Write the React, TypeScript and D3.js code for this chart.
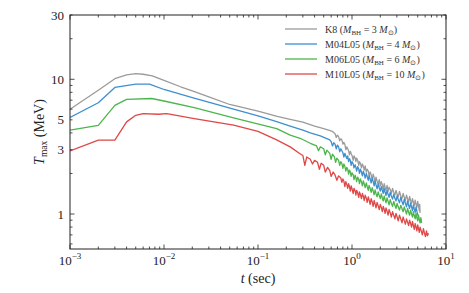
import React from 'react';
import * as d3 from 'd3';

// t (sec), T_max (MeV)
const k8: [number, number][] = [
  [1e-3, 6.0], [2e-3, 8.3], [3e-3, 10.1], [4e-3, 10.8], [5e-3, 11.0], [6e-3, 10.9], [7.5e-3, 10.6],
  [1e-2, 9.8], [1.5e-2, 8.8], [2e-2, 8.2], [3e-2, 7.4], [5e-2, 6.5], [0.1, 5.8], [0.16, 5.3],
  [0.22, 5.05], [0.3, 4.8], [0.4, 4.5], [0.5, 4.3], [0.62, 4.1],
  [0.66, 3.95], [0.68, 3.7], [0.7, 3.85], [0.72, 3.75], [0.74, 3.5], [0.76, 3.62], [0.78, 3.55],
  [0.8, 3.3], [0.82, 3.4], [0.84, 3.28], [0.86, 3.0], [0.88, 3.15], [0.9, 3.05], [0.92, 2.95],
  [0.94, 2.75], [0.96, 2.92], [0.98, 2.8], [1.0, 2.72], [1.03, 2.5], [1.05, 2.7], [1.08, 2.6],
  [1.1, 2.45], [1.12, 2.6], [1.15, 2.5], [1.18, 2.3], [1.2, 2.45], [1.23, 2.38], [1.26, 2.2],
  [1.29, 2.35], [1.32, 2.25], [1.35, 2.12], [1.38, 2.28], [1.42, 2.05], [1.45, 2.15], [1.49, 2.08],
  [1.52, 1.92], [1.56, 2.05], [1.6, 1.95], [1.64, 1.82], [1.68, 1.98], [1.72, 1.86], [1.76, 1.72],
  [1.8, 1.88], [1.85, 1.75], [1.9, 1.68], [1.95, 1.8], [2.0, 1.62], [2.05, 1.74], [2.1, 1.65],
  [2.15, 1.52], [2.2, 1.68], [2.25, 1.58], [2.3, 1.5], [2.36, 1.63], [2.42, 1.47], [2.48, 1.58],
  [2.55, 1.52], [2.62, 1.42], [2.7, 1.55], [2.78, 1.45], [2.86, 1.38], [2.94, 1.5], [3.02, 1.4],
  [3.1, 1.34], [3.2, 1.47], [3.3, 1.36], [3.4, 1.3], [3.5, 1.42], [3.6, 1.33], [3.7, 1.26],
  [3.8, 1.38], [3.9, 1.3], [4.0, 1.22], [4.1, 1.35], [4.2, 1.26], [4.3, 1.2], [4.4, 1.3],
  [4.5, 1.22], [4.6, 1.16], [4.7, 1.27], [4.8, 1.18], [4.9, 1.12], [5.0, 1.24], [5.1, 1.15],
  [5.2, 1.06], [5.25, 1.18], [5.3, 1.02],
];

const m04: [number, number][] = [
  [1e-3, 5.2], [2e-3, 6.7], [3e-3, 8.7], [5e-3, 9.2], [7e-3, 9.2], [1e-2, 8.4], [2e-2, 7.3],
  [5.5e-2, 6.0], [0.1, 5.35], [0.158, 4.85], [0.22, 4.5], [0.3, 4.2], [0.36, 4.0], [0.46, 3.8],
  [0.58, 3.55],
  [0.6, 3.45], [0.62, 3.2], [0.64, 3.38], [0.66, 3.3], [0.68, 3.05], [0.7, 3.25], [0.72, 3.15],
  [0.74, 2.9], [0.76, 3.05], [0.78, 2.95], [0.8, 2.85], [0.82, 2.65], [0.84, 2.82], [0.86, 2.7],
  [0.88, 2.58], [0.9, 2.7], [0.92, 2.45], [0.94, 2.58], [0.96, 2.5], [0.98, 2.3], [1.0, 2.45],
  [1.03, 2.35], [1.05, 2.2], [1.08, 2.32], [1.1, 2.22], [1.12, 2.08], [1.15, 2.25], [1.18, 2.15],
  [1.2, 2.0], [1.23, 2.15], [1.26, 2.05], [1.29, 1.92], [1.32, 2.08], [1.35, 1.98], [1.38, 1.85],
  [1.42, 2.0], [1.45, 1.9], [1.49, 1.78], [1.52, 1.93], [1.56, 1.82], [1.6, 1.7], [1.64, 1.85],
  [1.68, 1.74], [1.72, 1.62], [1.76, 1.76], [1.8, 1.65], [1.85, 1.54], [1.9, 1.68], [1.95, 1.56],
  [2.0, 1.48], [2.05, 1.6], [2.1, 1.5], [2.15, 1.42], [2.2, 1.55], [2.25, 1.45], [2.3, 1.37],
  [2.36, 1.5], [2.42, 1.4], [2.48, 1.33], [2.55, 1.45], [2.62, 1.36], [2.7, 1.29], [2.78, 1.4],
  [2.86, 1.31], [2.94, 1.25], [3.02, 1.37], [3.1, 1.28], [3.2, 1.21], [3.3, 1.33], [3.4, 1.24],
  [3.5, 1.17], [3.6, 1.29], [3.7, 1.2], [3.8, 1.13], [3.9, 1.25], [4.0, 1.16], [4.1, 1.1],
  [4.2, 1.21], [4.3, 1.13], [4.4, 1.06], [4.5, 1.17], [4.6, 1.09], [4.7, 1.03], [4.8, 1.13],
  [4.9, 1.05], [5.0, 0.99], [5.1, 0.96],
];

const m06: [number, number][] = [
  [1e-3, 4.2], [2e-3, 4.55], [3e-3, 6.4], [4e-3, 7.1], [7.4e-3, 7.2], [1e-2, 6.9], [2.1e-2, 6.15],
  [5.5e-2, 5.17], [0.158, 4.3], [0.22, 3.85], [0.28, 3.65], [0.36, 3.35],
  [0.42, 3.2], [0.44, 2.95], [0.46, 3.15], [0.5, 3.05], [0.52, 2.75], [0.54, 2.98], [0.58, 2.82],
  [0.6, 2.55], [0.62, 2.78], [0.65, 2.65], [0.67, 2.42], [0.69, 2.6], [0.72, 2.5], [0.74, 2.3],
  [0.76, 2.45], [0.78, 2.38], [0.8, 2.18], [0.82, 2.35], [0.84, 2.25], [0.86, 2.08], [0.88, 2.22],
  [0.9, 2.15], [0.92, 1.98], [0.94, 2.12], [0.96, 2.05], [0.98, 1.9], [1.0, 2.02], [1.03, 1.95],
  [1.05, 1.8], [1.08, 1.94], [1.1, 1.86], [1.12, 1.74], [1.15, 1.88], [1.18, 1.8], [1.2, 1.68],
  [1.23, 1.82], [1.26, 1.73], [1.29, 1.62], [1.32, 1.76], [1.35, 1.67], [1.38, 1.57], [1.42, 1.7],
  [1.45, 1.6], [1.49, 1.5], [1.52, 1.63], [1.56, 1.55], [1.6, 1.45], [1.64, 1.57], [1.68, 1.48],
  [1.72, 1.39], [1.76, 1.51], [1.8, 1.42], [1.85, 1.34], [1.9, 1.46], [1.95, 1.37], [2.0, 1.3],
  [2.05, 1.41], [2.1, 1.32], [2.15, 1.25], [2.2, 1.36], [2.25, 1.28], [2.3, 1.21], [2.36, 1.32],
  [2.42, 1.24], [2.48, 1.17], [2.55, 1.28], [2.62, 1.2], [2.7, 1.14], [2.78, 1.24], [2.86, 1.16],
  [2.94, 1.1], [3.02, 1.2], [3.1, 1.13], [3.2, 1.07], [3.3, 1.16], [3.4, 1.1], [3.5, 1.04],
  [3.6, 1.13], [3.7, 1.06], [3.8, 1.0], [3.9, 1.1], [4.0, 1.03], [4.1, 0.98], [4.2, 1.07],
  [4.3, 1.0], [4.4, 0.95], [4.5, 1.04], [4.6, 0.97], [4.7, 0.92], [4.8, 1.01], [4.9, 0.94],
  [5.0, 0.89], [5.1, 0.98], [5.2, 0.91], [5.3, 0.86], [5.4, 0.94], [5.5, 0.86],
];

const m10: [number, number][] = [
  [1e-3, 2.94], [2e-3, 3.54], [3e-3, 3.54], [4e-3, 4.83], [5e-3, 5.4], [6e-3, 5.56], [8.7e-3, 5.5],
  [1.07e-2, 5.56], [2.1e-2, 5.1], [5.5e-2, 4.56], [0.1, 4.1], [0.158, 3.55], [0.22, 3.15],
  [0.28, 2.8], [0.3, 2.72], [0.315, 2.3], [0.33, 2.65], [0.36, 2.55], [0.38, 2.35], [0.4, 2.5],
  [0.43, 2.42], [0.45, 2.15], [0.47, 2.38], [0.5, 2.3], [0.52, 2.05], [0.55, 2.22], [0.58, 2.1],
  [0.6, 1.9], [0.63, 2.05], [0.66, 1.95], [0.69, 1.78], [0.72, 1.92], [0.76, 1.85], [0.78, 1.72],
  [0.8, 1.82], [0.82, 1.75], [0.84, 1.6], [0.86, 1.74], [0.88, 1.66], [0.9, 1.55], [0.92, 1.68],
  [0.94, 1.6], [0.96, 1.48], [0.98, 1.62], [1.0, 1.54], [1.03, 1.42], [1.05, 1.55], [1.08, 1.48],
  [1.1, 1.38], [1.12, 1.5], [1.15, 1.43], [1.18, 1.33], [1.2, 1.46], [1.23, 1.39], [1.26, 1.3],
  [1.29, 1.42], [1.32, 1.35], [1.35, 1.26], [1.38, 1.38], [1.42, 1.31], [1.45, 1.22], [1.49, 1.34],
  [1.52, 1.27], [1.56, 1.18], [1.6, 1.3], [1.64, 1.23], [1.68, 1.14], [1.72, 1.26], [1.76, 1.19],
  [1.8, 1.11], [1.85, 1.22], [1.9, 1.15], [1.95, 1.08], [2.0, 1.18], [2.05, 1.12], [2.1, 1.04],
  [2.15, 1.14], [2.2, 1.08], [2.25, 1.01], [2.3, 1.11], [2.36, 1.05], [2.42, 0.98], [2.48, 1.08],
  [2.55, 1.02], [2.62, 0.95], [2.7, 1.04], [2.78, 0.98], [2.86, 0.92], [2.94, 1.01], [3.02, 0.95],
  [3.1, 0.89], [3.2, 0.98], [3.3, 0.92], [3.4, 0.86], [3.5, 0.95], [3.6, 0.89], [3.7, 0.84],
  [3.8, 0.92], [3.9, 0.87], [4.0, 0.82], [4.1, 0.9], [4.2, 0.85], [4.3, 0.8], [4.4, 0.88],
  [4.5, 0.82], [4.6, 0.77], [4.7, 0.85], [4.8, 0.8], [4.9, 0.75], [5.0, 0.83], [5.1, 0.78],
  [5.2, 0.73], [5.3, 0.8], [5.45, 0.75], [5.6, 0.7], [5.75, 0.78], [5.9, 0.72], [6.05, 0.68],
  [6.2, 0.75], [6.35, 0.69], [6.5, 0.72],
];

const seriesNames = ['K8', 'M04L05', 'M06L05', 'M10L05'];
const seriesMass = ['3', '4', '6', '10'];
const seriesColors = ['#9b9b9b', '#3d8fcf', '#4cb54c', '#e04747'];
const seriesData = [k8, m04, m06, m10];

const xMajor = [1e-3, 1e-2, 1e-1, 1, 10];
const xExp = ['\u22123', '\u22122', '\u22121', '0', '1'];
const yLabels = [1, 3, 5, 10, 30];
const yMajor = [1, 10];

const W = 469, H = 293;
const left = 70, right = 446, top = 15, bottom = 249;
const serif = 'Liberation Serif';

export default function App() {
  const x = d3.scaleLog().domain([1e-3, 10]).range([left, right]);
  const y = d3.scaleLog().domain([0.55, 30]).range([bottom, top]);
  const line = d3.line<[number, number]>().x(d => x(d[0])).y(d => y(d[1]));

  const xMinor: number[] = [];
  for (let e = -3; e < 1; e++) for (let k = 2; k <= 9; k++) xMinor.push(k * Math.pow(10, e));
  const yMinor: number[] = [];
  for (let e = -1; e < 2; e++) for (let k = 1; k <= 9; k++) {
    const v = k * Math.pow(10, e);
    if (v >= 0.55 && v <= 30 && !yMajor.includes(v)) yMinor.push(v);
  }

  const tickColor = '#222';
  return (
    <svg width={W} height={H} style={{ position: 'absolute', left: 0, top: 0, background: '#fff' }}>
      <defs>
        <clipPath id="plot"><rect x={left} y={top} width={right - left} height={bottom - top} /></clipPath>
      </defs>
      <g clipPath="url(#plot)">
        {seriesData.map((d, i) => (
          <path key={i} d={line(d) || ''} fill="none" stroke={seriesColors[i]} strokeWidth={1.3}
            strokeLinejoin="round" />
        ))}
      </g>
      {/* ticks */}
      <g stroke={tickColor} strokeWidth={0.8}>
        {xMajor.map((v, i) => (
          <g key={'xm' + i}>
            <line x1={x(v)} x2={x(v)} y1={bottom} y2={bottom - 4.5} />
            <line x1={x(v)} x2={x(v)} y1={top} y2={top + 4.5} />
          </g>
        ))}
        {xMinor.map((v, i) => (
          <g key={'xn' + i}>
            <line x1={x(v)} x2={x(v)} y1={bottom} y2={bottom - 2.5} />
            <line x1={x(v)} x2={x(v)} y1={top} y2={top + 2.5} />
          </g>
        ))}
        {yMajor.map((v, i) => (
          <g key={'ym' + i}>
            <line x1={left} x2={left + 4.5} y1={y(v)} y2={y(v)} />
            <line x1={right} x2={right - 4.5} y1={y(v)} y2={y(v)} />
          </g>
        ))}
        {yMinor.map((v, i) => (
          <g key={'yn' + i}>
            <line x1={left} x2={left + 2.5} y1={y(v)} y2={y(v)} />
            <line x1={right} x2={right - 2.5} y1={y(v)} y2={y(v)} />
          </g>
        ))}
      </g>
      <rect x={left} y={top} width={right - left} height={bottom - top} fill="none" stroke={tickColor}
        strokeWidth={1} />
      {/* tick labels */}
      <g fontSize={13} fill="#222" fontFamily={serif}>
        {xMajor.map((v, i) => (
          <text key={'xl' + i} x={x(v)} y={265} textAnchor="middle" fontFamily={serif}>
            10<tspan dy={-6} fontSize={9}>{xExp[i]}</tspan>
          </text>
        ))}
        {yLabels.map((v, i) => (
          <text key={'yl' + i} x={left - 6} y={y(v) + 4.5} textAnchor="end" fontFamily={serif}>{v}</text>
        ))}
      </g>
      {/* axis titles */}
      <text x={(left + right) / 2} y={283} textAnchor="middle" fontSize={14} fill="#222" fontFamily={serif}>
        <tspan fontStyle="italic">t</tspan> (sec)
      </text>
      <text transform={`translate(44,${(top + bottom) / 2}) rotate(-90)`} textAnchor="middle" fontSize={14}
        fill="#222" fontFamily={serif}>
        <tspan fontStyle="italic">T</tspan><tspan fontSize={9.5} dy={3}>max</tspan>
        <tspan dy={-3}> (MeV)</tspan>
      </text>
      {/* legend */}
      <g fontSize={10} fill="#333" fontFamily={serif}>
        {seriesNames.map((n, i) => {
          const cy = 29 + i * 15;
          return (
            <g key={'lg' + i}>
              <line x1={285} x2={317} y1={cy} y2={cy} stroke={seriesColors[i]} strokeWidth={1.3} />
              <text x={325} y={cy + 3.5} fontFamily={serif}>
                {n} (<tspan fontStyle="italic">M</tspan><tspan fontSize={7} dy={2}>BH</tspan>
                <tspan dy={-2}> = {seriesMass[i]} </tspan><tspan fontStyle="italic">M</tspan>
                <tspan fontSize={7} dy={2}>{'\u2299'}</tspan><tspan dy={-2}>)</tspan>
              </text>
            </g>
          );
        })}
      </g>
    </svg>
  );
}
